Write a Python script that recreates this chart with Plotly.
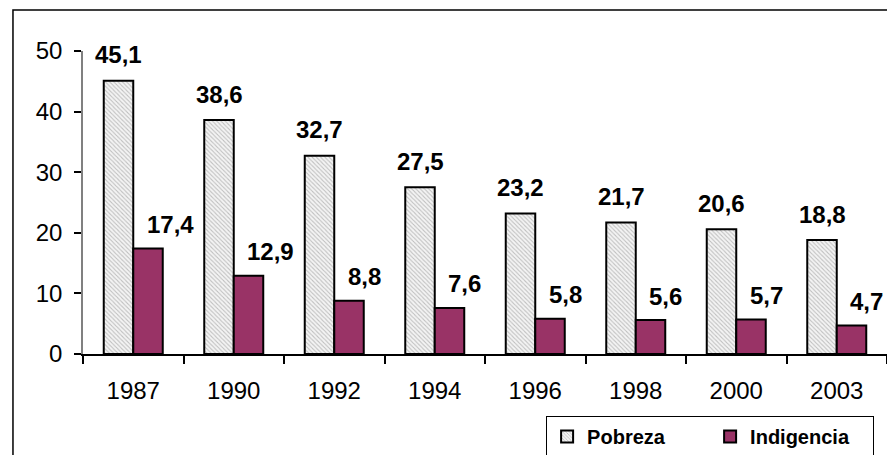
import plotly.graph_objects as go

years = ["1987", "1990", "1992", "1994", "1996", "1998", "2000", "2003"]
pobreza = [45.1, 38.6, 32.7, 27.5, 23.2, 21.7, 20.6, 18.8]
indigencia = [17.4, 12.9, 8.8, 7.6, 5.8, 5.6, 5.7, 4.7]
pobreza_labels = ["45,1", "38,6", "32,7", "27,5", "23,2", "21,7", "20,6", "18,8"]
indigencia_labels = ["17,4", "12,9", "8,8", "7,6", "5,8", "5,6", "5,7", "4,7"]

FONT = "Arial, Liberation Sans, sans-serif"

fig = go.Figure()
fig.add_trace(go.Bar(
    x=years, y=pobreza, name="Pobreza",
    marker=dict(color="white", line=dict(color="black", width=2),
                pattern=dict(shape="\\", fgcolor="#8c8c8c", bgcolor="#f4f4f4", size=3, solidity=0.35)),
))
fig.add_trace(go.Bar(
    x=years, y=indigencia, name="Indigencia",
    marker=dict(color="#993366", line=dict(color="black", width=2)),
))

# category axis: annotations positioned by category index
for i, (v, t) in enumerate(zip(pobreza, pobreza_labels)):
    fig.add_annotation(x=i, y=v, text=f"<b>{t}</b>", showarrow=False,
                       xshift=-14.75, yshift=26, xanchor="center", yanchor="middle",
                       font=dict(family=FONT, size=24, color="black"))
for i, (v, t) in enumerate(zip(indigencia, indigencia_labels)):
    fig.add_annotation(x=i, y=v, text=f"<b>{t}</b>", showarrow=False,
                       xshift=11.5, yshift=24, xanchor="left", yanchor="middle",
                       font=dict(family=FONT, size=24, color="black"))

# outer chart-area border
fig.add_shape(type="rect", xref="paper", yref="paper",
              x0=-0.0871, y0=-0.40, x1=1.03, y1=1.1353,
              line=dict(color="black", width=1.5), fillcolor="rgba(0,0,0,0)", layer="above")

fig.update_layout(
    width=887, height=447,
    margin=dict(l=75, r=8, t=43, b=101, autoexpand=False),
    paper_bgcolor="white", plot_bgcolor="white",
    barmode="group", bargap=0.413, bargroupgap=0,
    font=dict(family=FONT, size=24, color="black"),
    showlegend=True,
    legend=dict(orientation="h", x=0.576, y=-0.2046, xanchor="left", yanchor="top",
                bgcolor="white", bordercolor="black", borderwidth=1,
                font=dict(family=FONT, size=20, color="black", weight="bold"),
                entrywidth=118, entrywidthmode="pixels", itemwidth=30),
    xaxis=dict(type="category", range=[-0.5, len(years) - 0.5], autorange=False,
               showline=True, linecolor="black", linewidth=1.5,
               ticks="outside", tickson="boundaries", ticklen=8, tickcolor="black", tickwidth=1.5,
               showgrid=False, ticklabelstandoff=14, tickangle=0, automargin=False,
               tickfont=dict(family=FONT, size=24, color="black")),
    yaxis=dict(range=[0, 50], autorange=False, tickvals=[0, 10, 20, 30, 40, 50],
               showline=True, linecolor="#808080", linewidth=1.5,
               ticks="outside", ticklen=7, tickcolor="black", tickwidth=1.5,
               showgrid=False, zeroline=False, ticklabelstandoff=7, automargin=False,
               tickfont=dict(family=FONT, size=24, color="black")),
)

fig.write_html("out.html")
